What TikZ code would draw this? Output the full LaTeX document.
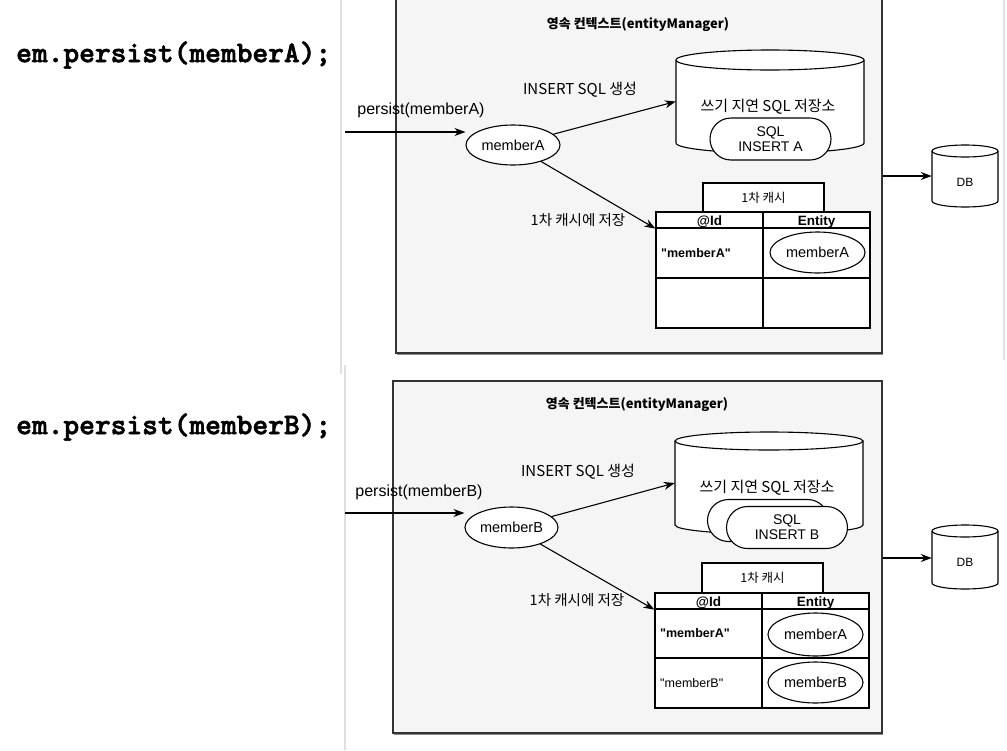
\documentclass[tikz,border=0pt]{standalone}
\usepackage{fontspec}
\setmainfont{Liberation Sans}
\newfontfamily\kr{Noto Sans CJK KR}
\newfontfamily\lsans{Liberation Sans}
\newfontfamily\codefont{lmmonolt10-bold.otf}[FakeBold=2]
\usetikzlibrary{shapes.geometric,shapes.misc,shadows,arrows.meta}
\newcommand{\mycyl}[5]{%
  \pgfmathsetmacro\cxa{(#1+#2)/2}\pgfmathsetmacro\rxa{(#2-#1)/2}%
  \pgfmathsetmacro\kx{0.5523*\rxa}\pgfmathsetmacro\ky{0.5523*#5}%
  \draw[cylline] (#1,#3) -- (#1,#4) .. controls (#1,#4+\ky) and (\cxa-\kx,#4+#5) .. (\cxa,#4+#5) .. controls (\cxa+\kx,#4+#5) and (#2,#4+\ky) .. (#2,#4) -- (#2,#3);
  \draw[cylline] (\cxa,#3) ellipse [x radius=\rxa, y radius=#5];
}
\newcommand{\q}{{\lsans\char34}}
\begin{document}
\begin{tikzpicture}[x=1pt,y=-1pt,
  frame/.style={draw=black!80, line width=1.3pt, fill=black!4, inner sep=0pt,
    drop shadow={shadow xshift=1.2pt, shadow yshift=-1.6pt, fill=black, opacity=0.45}},
  cylline/.style={draw=black, line width=1.1pt, fill=white},
  arr/.style={-{Stealth[length=11pt,width=8pt]}, line width=1.1pt},
  ell/.style={ellipse, draw, line width=1.1pt, fill=white, inner sep=0pt, font=\fontsize{14.5}{17}\selectfont},
  cell/.style={draw, line width=1.2pt, fill=white, inner sep=0pt, minimum width=107pt},
  hdrtxt/.style={inner sep=0pt, anchor=base, font=\fontsize{13.5}{15}\selectfont\bfseries},
  pill/.style={rounded rectangle, draw, line width=1.1pt, fill=white, inner sep=0pt,
    minimum width=121pt, minimum height=42pt, align=center, font=\fontsize{14}{15}\selectfont},
  title/.style={inner sep=0pt, font=\kr\fontsize{13}{15}\selectfont\bfseries},
  krl/.style={inner sep=0pt, font=\kr\fontsize{15}{17}\selectfont},
  krs/.style={inner sep=0pt, font=\kr\fontsize{14.5}{16}\selectfont},
  lat/.style={inner sep=0pt, font=\fontsize{16}{18}\selectfont},
  code/.style={inner sep=0pt, anchor=west, font=\codefont\fontsize{30}{32}\selectfont},
  tab/.style={draw, line width=1.2pt, fill=white, inner sep=0pt, minimum width=121pt, font=\kr\fontsize{12.5}{14}\selectfont},
  rowlbl/.style={inner sep=0pt, anchor=west, font=\fontsize{12.5}{14}\selectfont},
  dbtxt/.style={inner sep=0pt, font=\fontsize{12}{14}\selectfont},
  faint/.style={draw=black!12, line width=1.5pt}
]
\useasboundingbox (0,0) rectangle (1007,750);
% faint screenshot edges
\coordinate (fa1) at (341,0); \coordinate (fa2) at (341,374);
\coordinate (fb1) at (345,365); \coordinate (fb2) at (345,750);
\coordinate (fc1) at (1004,0); \coordinate (fc2) at (1004,360);
\draw[faint] (fa1) -- (fa2);
\draw[faint] (fb1) -- (fb2);
\draw[faint] (fc1) -- (fc2);

% ================= TOP PANEL =================
\node[code] (codeA) at (16,55) {em.persist(memberA);};
\node[frame, minimum width=486pt, minimum height=360pt] (frA) at (639,173) {};
\node[title] (tA) at (638,25) {영속 컨텍스트(entityManager)};
\node[krl] (genA) at (580,90) {INSERT SQL 생성};
\node[lat] (pA) at (421,110) {persist(memberA)};
\coordinate (inA) at (345,132);
\node[ell, minimum width=94pt, minimum height=40pt] (mA) at (513,145) {memberA};
\mycyl{676}{864}{60}{143}{10}
\node[inner sep=0pt, minimum width=188pt, minimum height=103pt] (wbA) at (770,101.5) {};
\node[krl] (wbtA) at (768,107) {쓰기 지연 SQL 저장소};
\node[pill] (sqlA) at (770.5,139) {SQL\\INSERT A};
\mycyl{932}{998}{151}{201}{6}
\node[inner sep=0pt, minimum width=66pt, minimum height=62pt] (dbA) at (965,176) {};
\node[dbtxt] (dbtA) at (965,182) {DB};
\node[tab, minimum height=29pt] (tabA) at (763.5,197.5) {1차 캐시};
\node[cell, minimum height=16pt] (hidA) at (709.5,220) {};
\node[cell, minimum height=16pt] (hentA) at (816.5,220) {};
\node[hdrtxt] (hidtA) at (709.5,225.5) {@Id};
\node[hdrtxt] (henttA) at (816.5,225.5) {Entity};
\node[cell, minimum height=50pt] (c1A) at (709.5,253) {};
\node[cell, minimum height=50pt] (e1A) at (816.5,253) {};
\node[cell, minimum height=50pt] (c2A) at (709.5,303) {};
\node[cell, minimum height=50pt] (e2A) at (816.5,303) {};
\node[rowlbl, font=\fontsize{12.5}{14}\selectfont\bfseries] (id1A) at (661,253) {\q memberA\q};
\node[ell, minimum width=95pt, minimum height=41pt] (me1A) at (817.5,252.5) {memberA};
\node[krs] (saveA) at (578,220) {1차 캐시에 저장};
\draw[arr] (inA) -- (inA -| mA.west);
\draw[arr] (mA) -- (wbA.west);
\draw[arr] (mA) -- (hidA.south west);
\draw[arr] (frA.east |- dbA.west) -- (dbA.west);

% ================= BOTTOM PANEL =================
\node[code] (codeB) at (16,427) {em.persist(memberB);};
\node[frame, minimum width=489pt, minimum height=352pt] (frB) at (637.5,557) {};
\node[title] (tB) at (637,405) {영속 컨텍스트(entityManager)};
\node[krl] (genB) at (578,472) {INSERT SQL 생성};
\node[lat] (pB) at (419,492) {persist(memberB)};
\coordinate (inB) at (345,513);
\node[ell, minimum width=93pt, minimum height=41pt] (mB) at (511.5,527.5) {memberB};
\mycyl{675}{863}{441}{525}{9}
\node[inner sep=0pt, minimum width=188pt, minimum height=102pt] (wbB) at (769,483) {};
\node[krl] (wbtB) at (767,488) {쓰기 지연 SQL 저장소};
\node[pill] (sqlB0) at (768,520.5) {};
\node[pill] (sqlB) at (787,527.5) {SQL\\INSERT B};
\mycyl{932}{998}{531}{583}{6}
\node[inner sep=0pt, minimum width=66pt, minimum height=64pt] (dbB) at (965,558) {};
\node[dbtxt] (dbtB) at (965,562) {DB};
\node[tab, minimum height=30pt] (tabB) at (762.5,578) {1차 캐시};
\node[cell, minimum height=16pt] (hidB) at (708.5,601) {};
\node[cell, minimum height=16pt] (hentB) at (815.5,601) {};
\node[hdrtxt] (hidtB) at (708.5,606.5) {@Id};
\node[hdrtxt] (henttB) at (815.5,606.5) {Entity};
\node[cell, minimum height=49pt] (c1B) at (708.5,633.5) {};
\node[cell, minimum height=49pt] (e1B) at (815.5,633.5) {};
\node[cell, minimum height=50pt] (c2B) at (708.5,683) {};
\node[cell, minimum height=50pt] (e2B) at (815.5,683) {};
\node[rowlbl, font=\fontsize{12.5}{14}\selectfont\bfseries] (id1B) at (660,633.5) {\q memberA\q};
\node[rowlbl] (id2B) at (660,683) {\q memberB\q};
\node[ell, minimum width=95pt, minimum height=43pt] (me1B) at (815.5,634.5) {memberA};
\node[ell, minimum width=95pt, minimum height=41pt] (me2B) at (815.5,682.5) {memberB};
\node[krs] (saveB) at (577,600) {1차 캐시에 저장};
\draw[arr] (inB) -- (inB -| mB.west);
\draw[arr] (mB) -- (wbB.west);
\draw[arr] (mB) -- (hidB.south west);
\draw[arr] (frB.east |- dbB.west) -- (dbB.west);
\end{tikzpicture}
\end{document}
